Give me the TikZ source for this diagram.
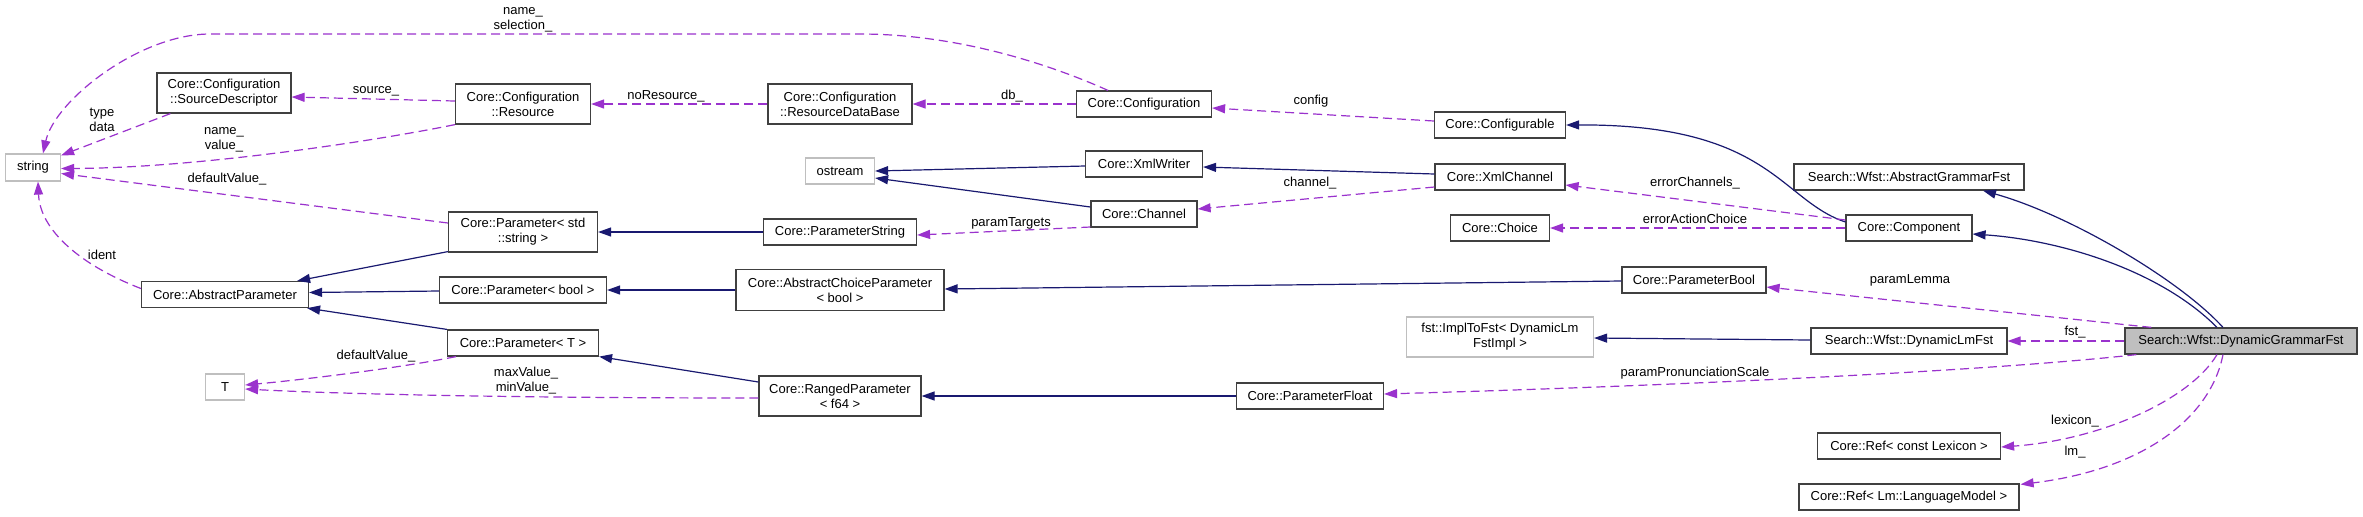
\documentclass[tikz,border=0pt]{standalone}
\usepackage{fontspec}
\setmainfont{Liberation Sans}
\usetikzlibrary{arrows.meta,calc}
\definecolor{inhc}{HTML}{191970}
\definecolor{depc}{HTML}{9A32CD}
\definecolor{boxc}{HTML}{404040}
\definecolor{extc}{HTML}{BFBFBF}
\begin{document}
\begin{tikzpicture}[x=0.5pt,y=-0.5pt,
 every node/.style={font=\fontsize{6.5}{7.5}\selectfont, inner sep=0pt},
 bw/.style={minimum width=#1*0.5pt},
 bh/.style={minimum height=#1*0.5pt},
 cls/.style={draw=boxc, line width=0.6pt, fill=white, align=center, minimum height=13pt},
 ext/.style={draw=extc, line width=0.6pt, fill=white, align=center, minimum height=13pt},
 inh/.style={draw=inhc, line width=0.6pt, -{Triangle[length=6.5pt,width=4.5pt]}},
 dep/.style={draw=depc, line width=0.6pt, dash pattern=on 4.5pt off 2.5pt, -{Triangle[length=6.5pt,width=4.5pt]}},
 lbl/.style={align=center}]
\fill[white] (0,0) rectangle (2363,516);
\useasboundingbox (0,0) rectangle (2363,516);
% classes
\node[ext,bw=55,bh=27] (string) at (33,167.5) {string};
\node[cls,bw=134,bh=40] (sd) at (224,93) {Core::Configuration\\::SourceDescriptor};
\node[cls,bw=135,bh=40] (resource) at (523,104) {Core::Configuration\\::Resource};
\node[cls,bw=144,bh=40] (rdb) at (840,104) {Core::Configuration\\::ResourceDataBase};
\node[cls,bw=135] (configuration) at (1144,104) {Core::Configuration};
\node[cls,bw=131] (configurable) at (1500,125) {Core::Configurable};
\node[ext,bw=69] (ostream) at (840,171) {ostream};
\node[cls,bw=117] (xmlwriter) at (1144,164) {Core::XmlWriter};
\node[cls,bw=130] (xmlchannel) at (1500,177) {Core::XmlChannel};
\node[cls,bw=106] (channel) at (1144,214) {Core::Channel};
\node[cls,bw=99] (choice) at (1500,228) {Core::Choice};
\node[cls,bw=149,bh=40] (pstd) at (523,232) {Core::Parameter< std\\::string >};
\node[cls,bw=153] (pstring) at (840,232) {Core::ParameterString};
\node[cls,bw=230] (agf) at (1909,177) {Search::Wfst::AbstractGrammarFst};
\node[cls,bw=126] (component) at (1909,228) {Core::Component};
\node[cls,bw=167] (abspar) at (225,294.5) {Core::AbstractParameter};
\node[cls,bw=167] (pbool) at (523,290) {Core::Parameter< bool >};
\node[cls,bw=208,bh=41] (acp) at (840,290) {Core::AbstractChoiceParameter\\< bool >};
\node[cls,bw=144] (parambool) at (1694,280) {Core::ParameterBool};
\node[cls,bw=151] (pT) at (523,343) {Core::Parameter< T >};
\node[ext,bw=39] (T) at (225,387) {T};
\node[cls,bw=162,bh=40] (ranged) at (840,396) {Core::RangedParameter\\< f64 >};
\node[cls,bw=147] (pfloat) at (1310,396) {Core::ParameterFloat};
\node[ext,bw=187,bh=40] (impl) at (1500,337) {fst::ImplToFst< DynamicLm\\FstImpl >};
\node[cls,bw=196] (dlmfst) at (1909,341) {Search::Wfst::DynamicLmFst};
\node[cls,bw=232,fill=extc] (dgf) at (2241,341) {Search::Wfst::DynamicGrammarFst};
\node[cls,bw=183] (lexicon) at (1909,446) {Core::Ref< const Lexicon >};
\node[cls,bw=220] (lm) at (1909,497) {Core::Ref< Lm::LanguageModel >};
% inheritance
\draw[inh] ($(component.west)+(0,-6)$) .. controls (1780,200) and (1770,124) .. (configurable.east);
\draw[inh] ($(dgf.north)+(-18,0)$) .. controls (2180,280) and (2070,215) .. ($(agf.south)+(74,0)$);
\draw[inh] ($(dgf.north)+(-24,0)$) .. controls (2160,270) and (2060,240) .. ($(component.east)+(0,6)$);
\draw[inh] ($(xmlwriter.west)+(0,2)$) -- (ostream.east);
\draw[inh] ($(channel.west)+(0,-7)$) -- ($(ostream.east)+(0,7)$);
\draw[inh] ($(xmlchannel.west)+(0,-3)$) -- ($(xmlwriter.east)+(0,3)$);
\draw[inh] (pstring.west) -- (pstd.east);
\draw[inh] ($(pstd.south west)+(0,-1)$) -- ($(abspar.north east)+(-12,0)$);
\draw[inh] ($(pbool.west)+(0,1)$) -- ($(abspar.east)+(0,-2)$);
\draw[inh] (pT.north west) -- ($(abspar.south east)+(-2,0)$);
\draw[inh] (acp.west) -- (pbool.east);
\draw[inh] ($(ranged.west)+(0,-14)$) -- (pT.south east);
\draw[inh] ($(parambool.west)+(0,1)$) -- ($(acp.east)+(0,-1)$);
\draw[inh] (pfloat.west) -- (ranged.east);
\draw[inh] ($(dlmfst.west)+(0,-1)$) -- ($(impl.east)+(0,1)$);
% dependencies
\draw[dep] ($(configuration.north)+(-36,0)$) .. controls (1040,60) and (950,34) .. (860,34) -- (210,34) .. controls (140,34) and (55,100) .. ($(string.north)+(10,0)$);
\draw[dep] ($(sd.south west)+(14,0)$) -- ($(string.north east)+(0,2)$);
\draw[dep] (resource.south west) .. controls (380,140) and (200,168) .. ($(string.east)+(0,1)$);
\draw[dep] ($(pstd.west)+(0,-9)$) -- ($(string.east)+(0,6)$);
\draw[dep] ($(abspar.west)+(0,-6)$) .. controls (80,265) and (40,230) .. ($(string.south)+(5,0)$);
\draw[dep] ($(resource.west)+(0,-3)$) -- ($(sd.east)+(0,4)$);
\draw[dep] (rdb.west) -- (resource.east);
\draw[dep] (configuration.west) -- (rdb.east);
\draw[dep] ($(configurable.west)+(0,-4)$) -- ($(configuration.east)+(0,4)$);
\draw[dep] ($(xmlchannel.west)+(0,10)$) -- ($(channel.east)+(0,-5)$);
\draw[dep] ($(channel.west)+(0,13)$) -- ($(pstring.east)+(0,3)$);
\draw[dep] ($(component.west)+(0,-8)$) -- ($(xmlchannel.east)+(0,8)$);
\draw[dep] (component.west) -- (choice.east);
\draw[dep] ($(pT.south west)+(9,0)$) .. controls (400,368) and (300,380) .. ($(T.east)+(0,-2)$);
\draw[dep] ($(ranged.west)+(0,2)$) .. controls (480,398) and (320,393) .. ($(T.east)+(0,2)$);
\draw[dep] ($(dgf.north west)+(27,0)$) -- ($(parambool.east)+(0,7)$);
\draw[dep] (dgf.west) -- (dlmfst.east);
\draw[dep] ($(dgf.south west)+(12,0)$) .. controls (2000,370) and (1700,385) .. ($(pfloat.east)+(0,-2)$);
\draw[dep] ($(dgf.south)+(-24,0)$) .. controls (2190,400) and (2100,440) .. ($(lexicon.east)+(0,1)$);
\draw[dep] ($(dgf.south)+(-18,0)$) .. controls (2210,420) and (2140,470) .. ($(lm.north east)+(1,1)$);
% labels
\node[lbl] (l1) at (523,20) {name\_\\selection\_};
\node[lbl] (l2) at (102,120) {type\\data};
\node[lbl] (l3) at (224,140) {name\_\\value\_};
\node[lbl] (l4) at (227,179) {defaultValue\_};
\node[lbl] (l5) at (102,255) {ident};
\node[lbl] (l6) at (376,91) {source\_};
\node[lbl] (l7) at (666,96) {noResource\_};
\node[lbl] (l8) at (1012,96) {db\_};
\node[lbl] (l9) at (1311,101) {config};
\node[lbl] (l10) at (1310,183) {channel\_};
\node[lbl] (l11) at (1011,223) {paramTargets};
\node[lbl] (l12) at (1695,183) {errorChannels\_};
\node[lbl] (l13) at (1695,219) {errorActionChoice};
\node[lbl] (l14) at (376,356) {defaultValue\_};
\node[lbl] (l15) at (526,381) {maxValue\_\\minValue\_};
\node[lbl] (l16) at (1910,280) {paramLemma};
\node[lbl] (l17) at (2075,332) {fst\_};
\node[lbl] (l18) at (1695,373) {paramPronunciationScale};
\node[lbl] (l19) at (2075,421) {lexicon\_};
\node[lbl] (l20) at (2075,452) {lm\_};
\end{tikzpicture}
\end{document}
